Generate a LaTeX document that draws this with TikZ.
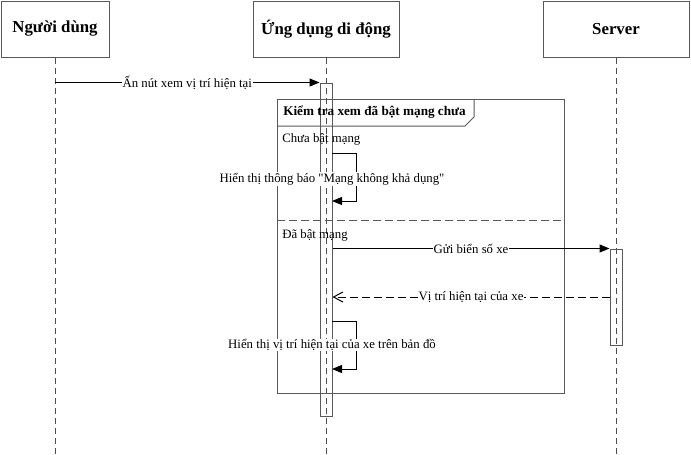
\documentclass[tikz,border=0pt]{standalone}
\usepackage{fontspec}
\setmainfont{Liberation Serif}
\usetikzlibrary{arrows.meta}
\usetikzlibrary{positioning}

\begin{document}
\begin{tikzpicture}[x=0.75pt,y=-0.75pt,
  actor/.style={draw=black!65, line width=0.75pt, minimum height=42pt, font=\bfseries\fontsize{12.6}{14}\selectfont},
  lifeline/.style={draw=black!70, line width=0.75pt, dash pattern=on 4.5pt off 3pt},
  actbar/.style={draw=black!65, line width=0.75pt, minimum width=9pt, inner sep=0pt},
  msg/.style={line width=0.75pt, -{Triangle[length=7.5pt,width=6pt]}},
  reply/.style={line width=0.75pt, dash pattern=on 6pt off 3pt, -{Straight Barb[length=7pt,width=7.5pt]}},
  lbl/.style={fill=white, inner sep=0.5pt, font=\fontsize{9.6}{11}\selectfont},
  framebox/.style={draw=black!65, line width=0.75pt}]

\useasboundingbox (0,0) rectangle (691,454);

% les acteurs
\node[actor, minimum width=81pt] (user) at (55,29) {Người dùng};
\node[actor, minimum width=109.5pt] (app) at (326,29) {Ứng dụng di động};
\node[actor, minimum width=109.5pt] (server) at (616,29) {Server};

% lignes de vie
\foreach \who in {user,app,server}{
  \draw[lifeline] (\who.south) -- (\who.south |- 0,454);
}

% barres d'activation
\node[actbar, minimum height=249.75pt] (appbar) at (326,249.5) {};
\node[actbar, minimum height=72pt] (serverbar) at (616,297) {};

% le cadre alt
\draw[framebox] (277,99) rectangle (564,393);
\draw[framebox] (277,126) -- (465,126) -- (474,117) -- (474,99);
\node[anchor=west, inner sep=0pt, font=\bfseries\fontsize{9.9}{11}\selectfont] (title) at (283,112) {Kiểm tra xem đã bật mạng chưa};
\draw[framebox, dash pattern=on 6pt off 3pt] (277,220) -- (564,220); % separation des cas
\node[anchor=west, inner sep=0pt, font=\fontsize{9.6}{11}\selectfont] (case1) at (282,139) {Chưa bật mạng};
\node[anchor=west, inner sep=0pt, font=\fontsize{9.6}{11}\selectfont] (case2) at (282,235) {Đã bật mạng};

% messages
\draw[msg] (user.south |- appbar.north) -- (appbar.north west) node[lbl, midway] {Ấn nút xem vị trí hiện tại};

\coordinate (s1) at (332,153);
\coordinate (s1e) at (332,201);
\draw[msg] (s1) -- ++(24,0) |- (s1e);
\node[lbl] (notice) at (332,179) {Hiển thị thông báo \textquotedbl Mạng không khả dụng\textquotedbl};

\draw[msg] (appbar.east |- serverbar.north) -- (serverbar.north west) node[lbl, midway] {Gửi biển số xe};
\draw[reply] (serverbar.west) -- (serverbar.west -| appbar.east) node[lbl, midway] {Vị trí hiện tại của xe};

\coordinate (s2) at (332,321);
\coordinate (s2e) at (332,369);
\draw[msg] (s2) -- ++(24,0) |- (s2e);
\node[lbl] (show) at (332,345) {Hiển thị vị trí hiện tại của xe trên bản đồ};
\end{tikzpicture}
\end{document}
